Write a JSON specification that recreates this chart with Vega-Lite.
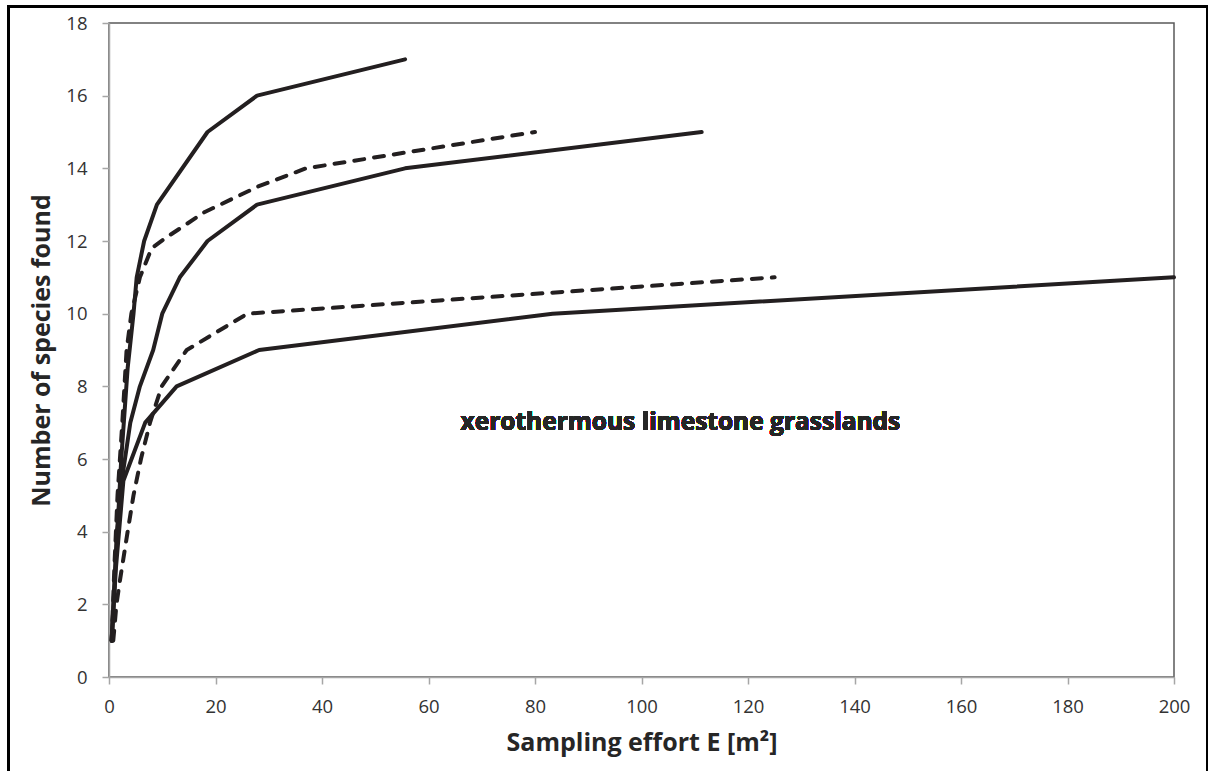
{
  "$schema": "https://vega.github.io/schema/vega-lite/v6.json",
  "width": 1065,
  "height": 654,
  "autosize": {"type": "none"},
  "padding": {"left": 109, "top": 23, "right": 34, "bottom": 94},
  "background": "white",
  "config": {
    "view": {"stroke": "#595959", "strokeWidth": 1.5},
    "axis": {
      "grid": false,
      "domainColor": "#a6a6a6",
      "domainWidth": 1.5,
      "tickColor": "#a6a6a6",
      "tickWidth": 1.5,
      "tickSize": 7,
      "labelFont": "Open Sans",
      "labelFontSize": 18.5,
      "labelColor": "#333333",
      "titleFont": "Open Sans",
      "titleFontWeight": "bold",
      "titleFontSize": 25,
      "titleColor": "#262626"
    }
  },
  "data": {
    "values": [
      {"series": "A", "style": "solid", "effort": 0.5, "species": 1},
      {"series": "A", "style": "solid", "effort": 1.2, "species": 3},
      {"series": "A", "style": "solid", "effort": 2.3, "species": 6},
      {"series": "A", "style": "solid", "effort": 3.5, "species": 8.5},
      {"series": "A", "style": "solid", "effort": 4.6, "species": 10},
      {"series": "A", "style": "solid", "effort": 5.2, "species": 11},
      {"series": "A", "style": "solid", "effort": 6.6, "species": 12},
      {"series": "A", "style": "solid", "effort": 9.0, "species": 13},
      {"series": "A", "style": "solid", "effort": 18.5, "species": 15},
      {"series": "A", "style": "solid", "effort": 27.8, "species": 16},
      {"series": "A", "style": "solid", "effort": 55.6, "species": 17},

      {"series": "B", "style": "dashed", "effort": 0.5, "species": 1},
      {"series": "B", "style": "dashed", "effort": 1.0, "species": 3},
      {"series": "B", "style": "dashed", "effort": 1.6, "species": 5},
      {"series": "B", "style": "dashed", "effort": 2.5, "species": 7},
      {"series": "B", "style": "dashed", "effort": 3.3, "species": 9},
      {"series": "B", "style": "dashed", "effort": 4.2, "species": 10},
      {"series": "B", "style": "dashed", "effort": 5.8, "species": 11},
      {"series": "B", "style": "dashed", "effort": 8.0, "species": 11.8},
      {"series": "B", "style": "dashed", "effort": 10.8, "species": 12.1},
      {"series": "B", "style": "dashed", "effort": 18.0, "species": 12.8},
      {"series": "B", "style": "dashed", "effort": 28.0, "species": 13.5},
      {"series": "B", "style": "dashed", "effort": 37.0, "species": 14},
      {"series": "B", "style": "dashed", "effort": 80.0, "species": 15},

      {"series": "C", "style": "solid", "effort": 0.5, "species": 1},
      {"series": "C", "style": "solid", "effort": 1.5, "species": 4},
      {"series": "C", "style": "solid", "effort": 2.6, "species": 5.6},
      {"series": "C", "style": "solid", "effort": 4.0, "species": 7},
      {"series": "C", "style": "solid", "effort": 5.8, "species": 8},
      {"series": "C", "style": "solid", "effort": 8.3, "species": 9},
      {"series": "C", "style": "solid", "effort": 10.0, "species": 10},
      {"series": "C", "style": "solid", "effort": 13.3, "species": 11},
      {"series": "C", "style": "solid", "effort": 18.5, "species": 12},
      {"series": "C", "style": "solid", "effort": 27.8, "species": 13},
      {"series": "C", "style": "solid", "effort": 55.6, "species": 14},
      {"series": "C", "style": "solid", "effort": 111.3, "species": 15},

      {"series": "D", "style": "dashed", "effort": 0.8, "species": 1},
      {"series": "D", "style": "dashed", "effort": 1.4, "species": 2},
      {"series": "D", "style": "dashed", "effort": 2.1, "species": 2.7},
      {"series": "D", "style": "dashed", "effort": 3.5, "species": 4},
      {"series": "D", "style": "dashed", "effort": 4.6, "species": 5},
      {"series": "D", "style": "dashed", "effort": 6.0, "species": 6},
      {"series": "D", "style": "dashed", "effort": 7.7, "species": 7},
      {"series": "D", "style": "dashed", "effort": 9.9, "species": 8},
      {"series": "D", "style": "dashed", "effort": 14.6, "species": 9},
      {"series": "D", "style": "dashed", "effort": 26.0, "species": 10},
      {"series": "D", "style": "dashed", "effort": 125.0, "species": 11},

      {"series": "E", "style": "solid", "effort": 0.5, "species": 1},
      {"series": "E", "style": "solid", "effort": 1.3, "species": 3},
      {"series": "E", "style": "solid", "effort": 2.7, "species": 5.4},
      {"series": "E", "style": "solid", "effort": 6.8, "species": 7},
      {"series": "E", "style": "solid", "effort": 12.7, "species": 8},
      {"series": "E", "style": "solid", "effort": 28.2, "species": 9},
      {"series": "E", "style": "solid", "effort": 83.3, "species": 10},
      {"series": "E", "style": "solid", "effort": 200.0, "species": 11}
    ]
  },
  "encoding": {
    "x": {
      "field": "effort",
      "type": "quantitative",
      "scale": {"domain": [0, 200], "nice": false, "zero": true},
      "axis": {
        "title": "Sampling effort E [m²]",
        "values": [0, 20, 40, 60, 80, 100, 120, 140, 160, 180, 200],
        "labelPadding": 13,
        "titlePadding": 15,
        "labelFlush": false
      }
    },
    "y": {
      "field": "species",
      "type": "quantitative",
      "scale": {"domain": [0, 18], "nice": false},
      "axis": {
        "title": "Number of species  found",
        "values": [0, 2, 4, 6, 8, 10, 12, 14, 16, 18],
        "labelPadding": 15,
        "titlePadding": 11,
        "labelFlush": false
      }
    }
  },
  "layer": [
    {
      "transform": [{"filter": "datum.style === 'solid'"}],
      "mark": {"type": "line", "color": "#231f20", "strokeWidth": 4, "strokeJoin": "round", "strokeCap": "round"},
      "encoding": {"detail": {"field": "series"}}
    },
    {
      "transform": [{"filter": "datum.style === 'dashed'"}],
      "mark": {"type": "line", "color": "#231f20", "strokeWidth": 4, "strokeJoin": "round", "strokeCap": "round", "strokeDash": [10, 10]},
      "encoding": {"detail": {"field": "series"}}
    },
    {
      "mark": {"type": "text", "text": "xerothermous limestone grasslands", "font": "Open Sans", "fontWeight": "bold", "fontSize": 24.5, "color": "#262626", "align": "center", "baseline": "middle"},
      "encoding": {
        "x": {"datum": 107.3},
        "y": {"datum": 7.0}
      }
    },
    {
      "mark": {"type": "rect", "fill": null, "stroke": "#000000", "strokeWidth": 2, "clip": false},
      "encoding": {
        "x": {"datum": -18.95},
        "x2": {"datum": 206.2},
        "y": {"datum": 18.45},
        "y2": {"datum": -2.9}
      }
    }
  ]
}
